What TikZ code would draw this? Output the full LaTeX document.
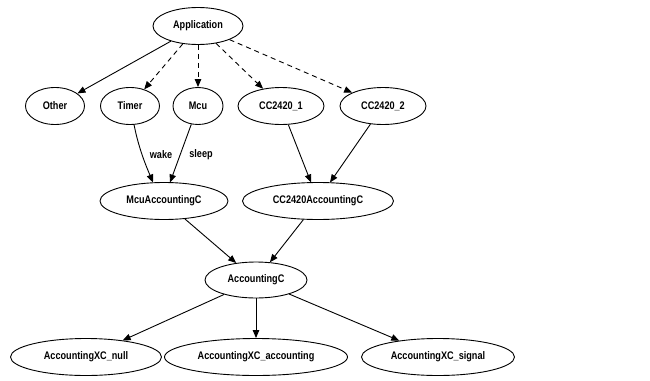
\documentclass[tikz,border=0pt]{standalone}
\usepackage{fontspec}
\setmainfont{Liberation Sans}[FakeStretch=0.83]
\usetikzlibrary{arrows.meta,shapes.geometric}
\begin{document}
\begin{tikzpicture}[x=1pt,y=-1pt,
  nd/.style={draw,ellipse,line width=0.9pt,inner sep=0pt,minimum height=37pt,font=\fontsize{11}{13}\selectfont\bfseries},
  ed/.style={line width=0.9pt,-{Triangle[length=8pt,width=6.5pt]}},
  dsh/.style={ed,dash pattern=on 5pt off 4pt},
  lb/.style={font=\fontsize{11}{13}\selectfont\bfseries}]
\useasboundingbox (0,0) rectangle (650,380);
\node[nd,minimum width=90pt] (app) at (198,26) {Application};
\node[nd,minimum width=59pt] (oth) at (55,106) {Other};
\node[nd,minimum width=59pt] (tim) at (130,106) {Timer};
\node[nd,minimum width=50pt] (mcu) at (198,106) {Mcu};
\node[nd,minimum width=86pt] (c1) at (281,106) {CC2420\_1};
\node[nd,minimum width=86pt] (c2) at (383,106) {CC2420\_2};
\node[nd,minimum width=128pt] (mac) at (164,201) {McuAccountingC};
\node[nd,minimum width=151pt] (cac) at (318,201) {CC2420AccountingC};
\node[nd,minimum width=102pt,minimum height=36pt] (acc) at (256,280) {AccountingC};
\node[nd,minimum width=151pt] (xn) at (86,357) {AccountingXC\_null};
\node[nd,minimum width=183pt] (xa) at (256,357) {AccountingXC\_accounting};
\node[nd,minimum width=153pt] (xs) at (438,357) {AccountingXC\_signal};
\coordinate (t0) at (134,124.5);
\coordinate (m1) at (153,182.5);
\coordinate (m2) at (170,182.5);
\coordinate (k1) at (311,182.5);
\coordinate (k2) at (330,182.5);
\draw[ed] (app) -- (oth);
\draw[dsh] (app) -- (tim);
\draw[dsh] (app) -- (mcu);
\draw[dsh] (app) -- (c1);
\draw[dsh] (app) -- (c2);
\draw[ed] (t0) .. controls (139,150) and (147,168) .. (m1);
\draw[ed] (mcu) -- (m2);
\node[lb] (wk) at (161,155) {wake};
\node[lb] (sl) at (201,155) {sleep};
\draw[ed] (c1) -- (k1);
\draw[ed] (c2) -- (k2);
\draw[ed] (mac) -- (acc);
\draw[ed] (cac) -- (acc);
\draw[ed] (acc) -- (xn);
\draw[ed] (acc) -- (xa);
\draw[ed] (acc) -- (xs);
\end{tikzpicture}
\end{document}
